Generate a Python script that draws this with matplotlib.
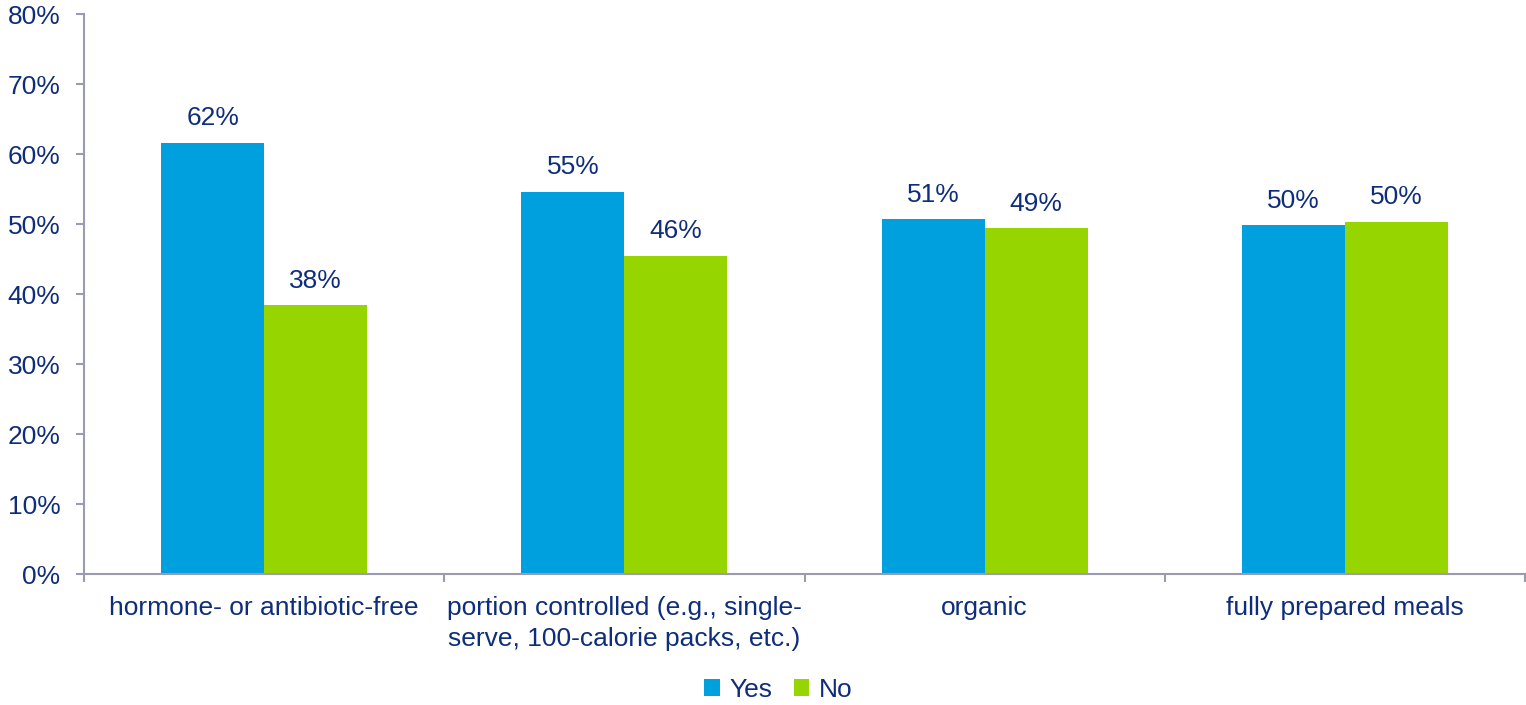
import matplotlib
matplotlib.use("Agg")
import matplotlib.pyplot as plt
import numpy as np
from matplotlib.ticker import FixedLocator, NullFormatter

plt.rcParams["font.family"] = ["Liberation Sans", "DejaVu Sans"]

categories = ["hormone- or antibiotic-free",
              "portion controlled (e.g., single-\nserve, 100-calorie packs, etc.)",
              "organic", "fully prepared meals"]
yes_vals = [61.6, 54.6, 50.7, 49.8]
no_vals = [38.4, 45.5, 49.4, 50.3]
yes_labels = ["62%", "55%", "51%", "50%"]
no_labels = ["38%", "46%", "49%", "50%"]

TXT = "#0E2D7A"
AX = "#9A9AB0"
C_YES = "#00A0DF"
C_NO = "#97D500"
FS = 19

fig = plt.figure(figsize=(15.26, 7.05), dpi=100)
ax = fig.add_axes([84 / 1526, 131 / 705, 1441 / 1526, 560 / 705])

x = np.arange(len(categories))
w = 0.286
ax.bar(x - w / 2, yes_vals, w, color=C_YES, label="Yes")
ax.bar(x + w / 2, no_vals, w, color=C_NO, label="No")

for i in range(len(categories)):
    ax.text(x[i] - w / 2, yes_vals[i] + 1.8, yes_labels[i], ha="center",
            va="bottom", fontsize=FS, color=TXT)
    ax.text(x[i] + w / 2, no_vals[i] + 1.8, no_labels[i], ha="center",
            va="bottom", fontsize=FS, color=TXT)

ax.set_xlim(-0.5, len(categories) - 0.5)
ax.set_ylim(0, 80)
ax.set_yticks(np.arange(0, 81, 10))
ax.set_yticklabels([f"{v}%" for v in range(0, 81, 10)], fontsize=FS, color=TXT)

ax.xaxis.set_major_locator(FixedLocator(np.arange(-0.5, len(categories), 1)))
ax.xaxis.set_major_formatter(NullFormatter())
ax.xaxis.set_minor_locator(FixedLocator(x))
ax.set_xticklabels(categories, minor=True, fontsize=FS, color=TXT,
                   linespacing=1.35)
ax.tick_params(axis="x", which="minor", length=0, pad=16)
ax.tick_params(axis="x", which="major", length=6, color=AX, width=1.5)
ax.tick_params(axis="y", length=6, color=AX, width=1.5, pad=11)

for s in ["top", "right"]:
    ax.spines[s].set_visible(False)
for s in ["left", "bottom"]:
    ax.spines[s].set_color(AX)
    ax.spines[s].set_linewidth(1.5)

leg = fig.legend(loc="center", bbox_to_anchor=(0.51, 15 / 705), ncol=2,
                 frameon=False, fontsize=FS, handlelength=0.6, handleheight=0.6,
                 handletextpad=0.35, columnspacing=0.8, borderpad=0)
for t in leg.get_texts():
    t.set_color(TXT)

fig.savefig("out.png", dpi=100)
